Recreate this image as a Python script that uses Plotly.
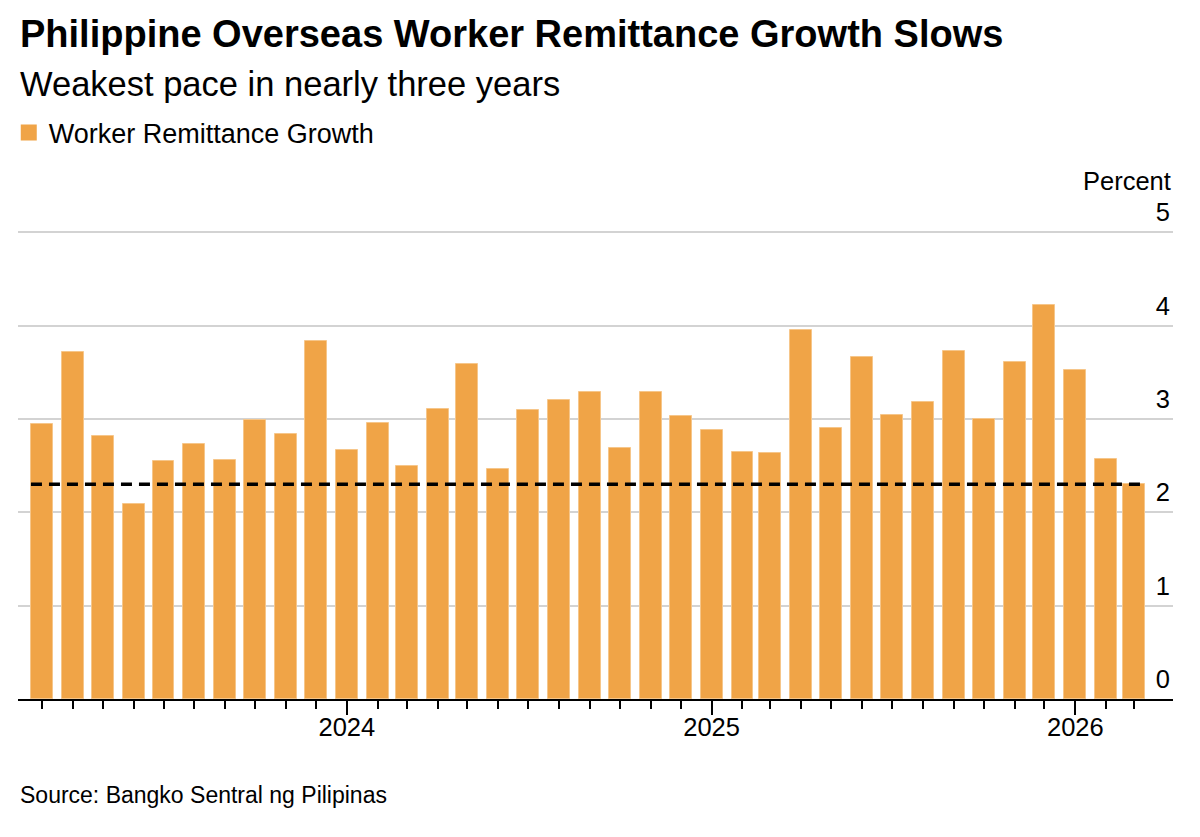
import plotly.graph_objects as go
import pandas as pd

# monthly worker remittance growth, % y/y
months = ["2023-03", "2023-04", "2023-05", "2023-06", "2023-07", "2023-08",
          "2023-09", "2023-10", "2023-11", "2023-12",
          "2024-01", "2024-02", "2024-03", "2024-04", "2024-05", "2024-06",
          "2024-07", "2024-08", "2024-09", "2024-10", "2024-11", "2024-12",
          "2025-01", "2025-02", "2025-03", "2025-04", "2025-05", "2025-06",
          "2025-07", "2025-08", "2025-09", "2025-10", "2025-11", "2025-12",
          "2026-01", "2026-02", "2026-03"]
growth = [2.95, 3.72, 2.82, 2.09, 2.55, 2.73, 2.56, 2.99, 2.84, 3.84,
          2.67, 2.96, 2.50, 3.11, 3.59, 2.46, 3.10, 3.20, 3.29, 2.69, 3.29, 3.03,
          2.88, 2.65, 2.64, 3.95, 2.90, 3.66, 3.04, 3.18, 3.73, 3.00, 3.61, 4.22,
          3.52, 2.57, 2.30]
y_ticks = [0, 1, 2, 3, 4, 5]

ORANGE = "#F0A447"
FONT = "Liberation Sans, Arial, sans-serif"

dates = pd.to_datetime(months)
bar_w = pd.Timedelta(days=22)
latest = growth[-1]

# page body adds an 8px margin, so the figure sits 8px right/down
OFF = 8
W, H = 1200, 837
top, bottom = 195, 699          # wanted plot area, in window px
left, right = 18, 1173
ph = bottom - top
def py(px):
    return (bottom - px) / ph

fig = go.Figure()
fig.add_trace(go.Bar(
    x=dates, y=growth,
    width=bar_w.total_seconds() * 1000,
    marker=dict(color=ORANGE, line=dict(color="#F6C68A", width=1)),
    showlegend=False,
    hovertemplate="%{x|%b %Y}: %{y:.2f}%<extra></extra>",
))
# legend entry with a bigger square swatch
fig.add_trace(go.Scatter(
    x=[None], y=[None], mode="markers", name="Worker Remittance Growth",
    marker=dict(symbol="square", size=19, color=ORANGE),
))

# dashed line at the latest reading
fig.add_shape(type="line", xref="x", yref="y",
              x0=dates[0] - bar_w / 2, x1=dates[-1] + bar_w / 2,
              y0=latest, y1=latest,
              line=dict(color="black", width=3.5, dash="11px,7px"))

fig.update_layout(
    width=W, height=H,
    margin=dict(l=left - OFF, r=W + OFF - right, t=top - OFF,
                b=H + OFF - bottom, autoexpand=False),
    paper_bgcolor="white", plot_bgcolor="white",
    font=dict(family=FONT, color="black"),
    bargap=0,
    legend=dict(orientation="h", x=-0.008, xanchor="left", y=py(133),
                yanchor="middle", font=dict(size=27), bgcolor="rgba(0,0,0,0)"),
    annotations=[
        dict(text="<b>Philippine Overseas Worker Remittance Growth Slows</b>",
             xref="paper", yref="paper", x=0, y=py(34), xanchor="left",
             yanchor="middle", showarrow=False, font=dict(size=38)),
        dict(text="Weakest pace in nearly three years",
             xref="paper", yref="paper", x=0, y=py(84), xanchor="left",
             yanchor="middle", showarrow=False, font=dict(size=34.5)),
        dict(text="Percent", xref="paper", yref="paper", x=1, y=py(181),
             xanchor="right", yanchor="middle", showarrow=False,
             font=dict(size=25.5)),
        dict(text="Source: Bangko Sentral ng Pilipinas",
             xref="paper", yref="paper", x=0, y=py(795), xanchor="left",
             yanchor="middle", showarrow=False, font=dict(size=23)),
    ],
)

fig.update_xaxes(
    type="date", automargin=False,
    range=["2023-02-05", "2026-04-09"],
    showgrid=False, zeroline=False,
    showline=True, linecolor="black", linewidth=2,
    ticks="outside", ticklen=14, tickwidth=2, tickcolor="black",
    dtick="M12", tick0="2024-01-01", tickformat="%Y",
    tickfont=dict(size=25.5, color="black"), ticklabelstandoff=-10,
    minor=dict(ticks="outside", dtick="M1", tick0="2024-01-01",
               ticklen=8, tickwidth=1.5, tickcolor="black", showgrid=False),
)
fig.update_yaxes(
    side="right", range=[0, 5.4], automargin=False,
    tickvals=y_ticks, ticktext=[str(v) for v in y_ticks],
    showgrid=True, gridcolor="#d3d3d3", gridwidth=1.5,
    zeroline=False, showline=False, ticks="",
    ticklabelposition="inside", ticklabelshift=-20,
    tickfont=dict(size=25.5, color="black"),
)

fig.write_html("out.html")
